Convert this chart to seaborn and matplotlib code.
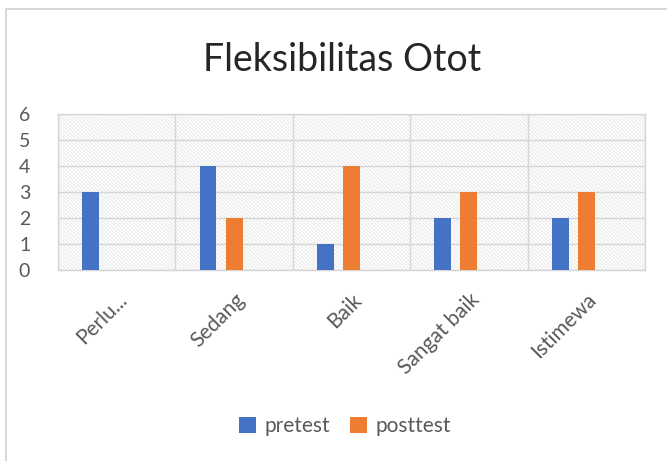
import matplotlib
matplotlib.use("Agg")
import matplotlib.pyplot as plt
import seaborn as sns
import pandas as pd
from matplotlib.patches import Rectangle, Patch

categories = ["Perlu...", "Sedang", "Baik", "Sangat baik", "Istimewa"]
pretest = [3, 4, 1, 2, 2]
posttest = [0, 2, 4, 3, 3]
series_names = ["pretest", "posttest", "_empty"]
colors = {"pretest": "#4472C4", "posttest": "#ED7D31", "_empty": "none"}
y_ticks = [0, 1, 2, 3, 4, 5, 6]

rows = []
for c, a, b in zip(categories, pretest, posttest):
    rows.append({"cat": c, "series": "pretest", "val": a})
    rows.append({"cat": c, "series": "posttest", "val": b})
    rows.append({"cat": c, "series": "_empty", "val": 0})
df = pd.DataFrame(rows)

plt.rcParams["font.family"] = ["Lato", "DejaVu Sans"]
plt.rcParams["hatch.color"] = "#e2e2e2"
plt.rcParams["hatch.linewidth"] = 0.6

fig = plt.figure(figsize=(6.67, 4.61), dpi=100)
fig.patch.set_facecolor("white")
# chart border (top and left visible)
fig.patches.append(Rectangle((6 / 667, -0.1), 1.2, 1 - 9 / 461 + 0.1,
                             transform=fig.transFigure, fill=False,
                             edgecolor="#d0d0d0", linewidth=1.2, zorder=0))

ax = fig.add_axes([58 / 667, 1 - 270 / 461, (645 - 58) / 667, (270 - 114) / 461])
ax.patch.set_facecolor("white")
ax.patch.set_hatch("\\" * 9)
ax.patch.set_edgecolor("#e2e2e2")

sns.barplot(data=df, x="cat", y="val", hue="series", hue_order=series_names,
            order=categories, palette=colors, width=0.667, gap=0.35,
            saturation=1, linewidth=0, legend=False, ax=ax, zorder=3)

ax.set_xlim(-0.5, 4.5)
ax.set_ylim(0, 6)
ax.set_yticks(y_ticks)
ax.set_xticks([i - 0.5 for i in range(6)], minor=True)
ax.grid(True, which="major", axis="y", color="#d6d6d6", linewidth=1.0, zorder=1)
ax.grid(True, which="minor", axis="x", color="#d6d6d6", linewidth=1.0, zorder=1)
ax.grid(False, which="major", axis="x")
ax.set_axisbelow(True)
for s in ax.spines.values():
    s.set_color("#d6d6d6")
    s.set_linewidth(1.0)

ax.set_xlabel("")
ax.set_ylabel("")
ax.tick_params(axis="both", which="both", length=0)
ax.tick_params(axis="y", labelsize=14, labelcolor="#595959", pad=20)
ax.tick_params(axis="x", labelsize=15, labelcolor="#595959", pad=14)
ax.set_xticks(range(len(categories)))
ax.set_xticklabels(categories, rotation=45, ha="right", rotation_mode="anchor")

fig.text(342 / 667, 1 - 60 / 461, "Fleksibilitas Otot", ha="center", va="center",
         fontsize=27, color="#262626")

handles = [Patch(facecolor=colors["pretest"], label="pretest"),
           Patch(facecolor=colors["posttest"], label="posttest")]
fig.legend(handles=handles, loc="center", bbox_to_anchor=(345 / 667, 1 - 426 / 461),
           ncol=2, frameon=False, fontsize=15, handlelength=0.8, handleheight=0.8,
           handletextpad=0.4, columnspacing=1.0, labelcolor="#595959")

fig.savefig("out.png", dpi=100)
